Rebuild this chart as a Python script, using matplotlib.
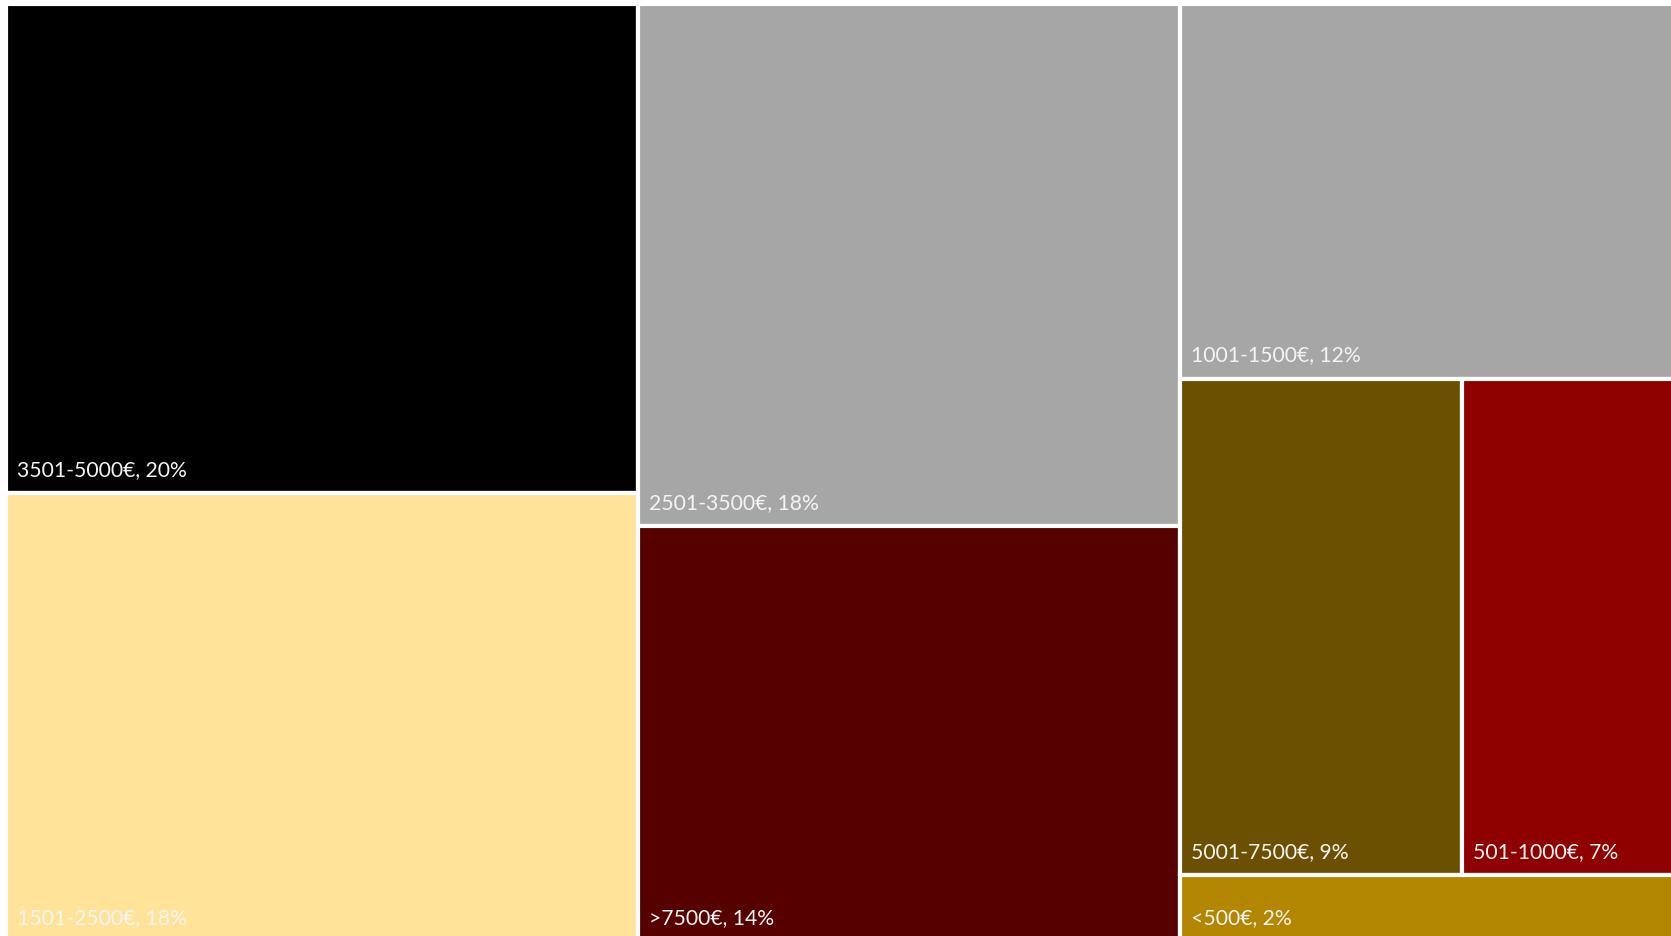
import matplotlib.pyplot as plt
from matplotlib.patches import Rectangle

# income bands and their share (%), labels show the rounded share
labels = ['3501-5000€', '1501-2500€', '2501-3500€', '>7500€',
          '1001-1500€', '5001-7500€', '501-1000€', '<500€']
shares = [19.7, 18.0, 18.0, 14.3, 12.0, 8.9, 7.0, 2.1]
colors = ['#000000', '#FFE399', '#A6A6A6', '#560000',
          '#A6A6A6', '#6A5000', '#8F0000', '#B38600']

# treemap structure: columns -> rows -> items side by side (indices into lists)
layout = [
    [[0], [1]],
    [[2], [3]],
    [[4], [5, 6], [7]],
]

W, H = 1671, 936
fig = plt.figure(figsize=(W / 100, H / 100), dpi=100)
# plot region is slightly larger than the canvas (cropped on right/bottom)
x0, y0, x1, y1 = 6, 3.5, 1683.5, 941
ax = fig.add_axes([x0 / W, (H - y1) / H, (x1 - x0) / W, (y1 - y0) / H])
ax.set_xlim(0, 100)
ax.set_ylim(1, 0)
ax.axis('off')

total = sum(shares)
x = 0
for col in layout:
    col_sum = sum(shares[i] for row in col for i in row)
    w = col_sum / total * 100
    y = 0
    for row in col:
        row_sum = sum(shares[i] for i in row)
        h = row_sum / col_sum
        xx = x
        for i in row:
            ww = shares[i] / row_sum * w
            ax.add_patch(Rectangle((xx, y), ww, h, facecolor=colors[i],
                                   edgecolor='white', linewidth=3.0))
            ax.annotate(f'{labels[i]}, {round(shares[i])}%', xy=(xx, y + h),
                        xytext=(11, 17), textcoords='offset pixels',
                        color='#F4F4F4', fontsize=15.2, family='Lato',
                        ha='left', va='baseline')
            xx += ww
        y += h
    x += w

fig.savefig('out.png', dpi=100)
